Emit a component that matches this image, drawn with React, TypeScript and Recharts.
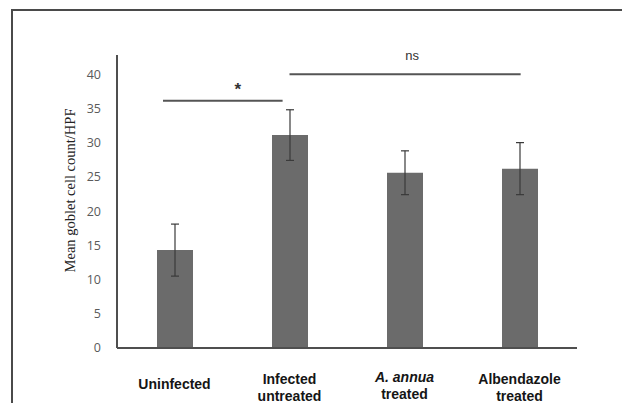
import React from 'react';
import { BarChart, Bar, XAxis, YAxis, ErrorBar, ReferenceLine, Label } from 'recharts';

const categories = ['Uninfected', 'Infected untreated', 'A. annua treated', 'Albendazole treated'];
const tickLines = [['Uninfected'], ['Infected', 'untreated'], ['A.  annua', 'treated'], ['Albendazole', 'treated']];
const italicFirstLine = [false, false, true, false];
const means = [14.3, 31.1, 25.6, 26.2];
const errors = [3.8, 3.7, 3.2, 3.8];
const yTicks = [0, 5, 10, 15, 20, 25, 30, 35, 40];
const sigLabels = ['*', 'ns'];
const sigLevels = [36.1, 40];
const sigFrom = [-0.1, 1.0];
const sigTo = [0.94, 3.01];

const data = categories.map((c, i) => ({ name: c, mean: means[i], err: errors[i], idx: i }));

const XTick = (props: any) => {
  const { x, y, payload } = props;
  const i = categories.indexOf(payload.value);
  const lines = tickLines[i] || [payload.value];
  const single = lines.length === 1;
  const base = single ? y + 33 : (i === 2 ? y + 26 : y + 28);
  return (
    <g>
      {lines.map((ln, k) => (
        <text
          key={k}
          x={x}
          y={base + k * 17}
          textAnchor="middle"
          fontFamily="'Liberation Sans', Arial, sans-serif"
          fontWeight="bold"
          fontStyle={k === 0 && italicFirstLine[i] ? 'italic' : 'normal'}
          fontSize={14}
          fill="#151515"
        >
          {ln}
        </text>
      ))}
    </g>
  );
};

const YLabel = (props: any) => {
  const vb = props.viewBox;
  const cy = vb.y + vb.height / 2 - 11;
  const bx = 75;
  return (
    <text
      x={bx}
      y={cy}
      transform={`rotate(-90, ${bx}, ${cy})`}
      textAnchor="middle"
      fontFamily="'Liberation Serif', 'Times New Roman', serif"
      fontSize={14.5}
      fill="#222"
    >
      Mean goblet cell count/HPF
    </text>
  );
};

const SigLabel = (text: string, lift: number, shift: number, size: number, weight: string) => (props: any) => {
  const vb = props.viewBox;
  const cx = vb.x + vb.width / 2 + shift;
  return (
    <text
      x={cx}
      y={vb.y - lift}
      textAnchor="middle"
      fontFamily="'Liberation Sans', Arial, sans-serif"
      fontSize={size}
      fontWeight={weight}
      fill="#333"
    >
      {text}
    </text>
  );
};

export default function App() {
  return (
    <div style={{ position: 'absolute', left: 0, top: 0, width: 622, height: 403, overflow: 'hidden', background: '#fff' }}>
      <div
        style={{
          position: 'absolute',
          left: 11,
          top: 9,
          width: 700,
          height: 500,
          border: '2px solid #4a4a4a',
          boxSizing: 'border-box',
        }}
      />
      <div style={{ position: 'absolute', left: 0, top: 0 }}>
        <BarChart width={622} height={403} data={data} margin={{ top: 55, right: 45, bottom: 0, left: 0 }}>
          <XAxis
            xAxisId="cat"
            dataKey="name"
            type="category"
            height={55}
            tickLine={false}
            axisLine={{ stroke: '#4f4f4f', strokeWidth: 2 }}
            tick={<XTick />}
            interval={0}
          />
          <XAxis xAxisId="num" dataKey="idx" type="number" domain={[-0.5, 3.5]} hide allowDataOverflow />
          <YAxis
            width={117}
            domain={[0, 42.8]}
            ticks={yTicks}
            tickLine={false}
            axisLine={{ stroke: '#4f4f4f', strokeWidth: 2 }}
            tick={{ fill: '#5a5a5a', fontSize: 12.5, fontFamily: "'Open Sans', sans-serif" }}
            tickMargin={10}
            allowDataOverflow
          >
            <Label content={<YLabel />} />
          </YAxis>
          <Bar xAxisId="cat" dataKey="mean" fill="#6b6b6b" barSize={36} isAnimationActive={false}>
            <ErrorBar dataKey="err" width={4} stroke="#3a3a3a" strokeWidth={1.2} direction="y" />
          </Bar>
          {sigLabels.map((lab, i) => (
            <ReferenceLine
              key={lab}
              xAxisId="num"
              segment={[
                { x: sigFrom[i], y: sigLevels[i] },
                { x: sigTo[i], y: sigLevels[i] },
              ]}
              stroke="#555"
              strokeWidth={2}
              ifOverflow="visible"
              label={i === 0 ? SigLabel(lab, 6, 15, 17, 'bold') : SigLabel(lab, 14, 7, 13, 'normal')}
            />
          ))}
        </BarChart>
      </div>
    </div>
  );
}
